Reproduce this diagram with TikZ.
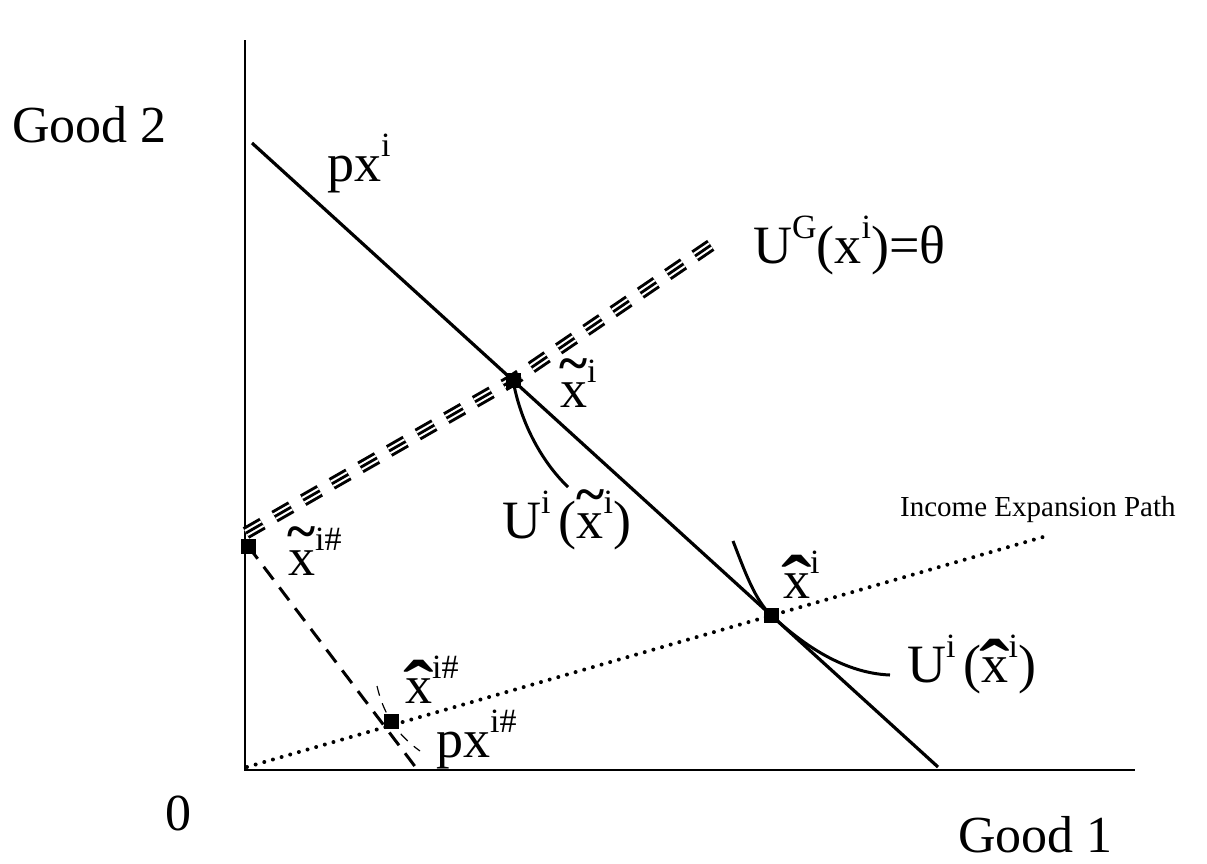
\documentclass[tikz,border=0pt]{standalone}
\usepackage{graphicx}
\usepackage{fontspec}
\setmainfont{Liberation Serif}
\newcommand{\lblfont}{\fontsize{54}{60}\selectfont}
\newcommand{\axfont}{\fontsize{52}{60}\selectfont}
\newcommand{\iepfont}{\fontsize{29}{34}\selectfont}
\newcommand{\sups}[1]{\raisebox{0.45em}{\fontsize{34}{34}\selectfont #1}}
\newcommand{\accx}[3]{\rlap{\makebox[0.5em]{\raisebox{#3}{#1}}}x\sups{#2}}
\newcommand{\tildex}[1]{\accx{\textbf{\textasciitilde}}{#1}{0.47em}}
\newcommand{\hatx}[1]{\accx{\scalebox{1.7}[1.4]{\textbf{\char"02C6}}}{#1}{-0.2em}}
\tikzset{
  axis/.style={line width=1.8pt},
  budget/.style={line width=3.2pt},
  icurve/.style={line width=3pt},
  pt/.style={fill, rectangle, minimum size=15pt, inner sep=0pt},
  lab/.style={anchor=base west, inner sep=0pt, font=\lblfont},
  axlab/.style={anchor=base west, inner sep=0pt, font=\axfont},
  ieppath/.style={line width=4pt, line cap=round, dash pattern=on 0pt off 9pt},
  budgetnew/.style={line width=3pt, dash pattern=on 16pt off 10pt},
  icnew/.style={line width=1.2pt, dash pattern=on 10pt off 8pt},
  ugline/.style={line width=13pt, dash pattern=on 19pt off 14pt,
    postaction={draw=white, line width=7pt, dash pattern=on 19pt off 14pt},
    postaction={draw, line width=2.8pt, dash pattern=on 19pt off 14pt}}
}
\begin{document}
\begin{tikzpicture}[x=1pt, y=-1pt]
\useasboundingbox (0,0) rectangle (1207,863);
% axes
\coordinate (o) at (245,770);
\coordinate (ytop) at (245,40);
\coordinate (xend) at (1135,770);
\draw[axis] (ytop) -- (o) -- (xend);
% points
\coordinate (xt) at (513,380);
\coordinate (xh) at (771,615);
\coordinate (xtn) at (248,546);
\coordinate (xhn) at (391,721);
% lines
\coordinate (bud1) at (252,143);
\coordinate (bud2) at (938,767);
\draw[budget] (bud1) -- (bud2);
\coordinate (iep1) at (247,767);
\coordinate (iep2) at (1050,535);
\draw[ieppath] (iep1) -- (iep2);
\coordinate (ugstart) at (246,533);
\coordinate (ugend) at (720,239);
\draw[ugline] (ugstart) -- (xt) -- (ugend);
\coordinate (bnend) at (420,773);
\draw[budgetnew] (xtn) -- (bnend);
% indifference curves
\coordinate (ute) at (568,487);
\draw[icurve] (xt) .. controls (520,420) and (540,460) .. (ute);
\coordinate (uhs) at (733,541);
\coordinate (uhe) at (890,675);
\draw[icurve] (uhs) .. controls (745,572) and (755,600) .. (xh)
  .. controls (798,640) and (840,673) .. (uhe);
\coordinate (uns) at (377,686);
\coordinate (une) at (420,751);
\draw[icnew] (uns) .. controls (383,712) and (395,733) .. (une);
% squares
\node[pt] (sqxt) at (xt) {};
\node[pt] (sqxh) at (xh) {};
\node[pt] (sqxtn) at (xtn) {};
\node[pt] (sqxhn) at (xhn) {};
% labels
\node[axlab] (good2) at (12,142) {Good 2};
\node[axlab] (zero) at (165,830) {0};
\node[axlab] (good1) at (958,852) {Good 1};
\node[lab] (pxi) at (327,181) {px\sups{i}};
\node[lab] (ug) at (753,263) {U\sups{G}(x\sups{i})=θ};
\node[lab] (lxt) at (560,407) {\tildex{i}};
\node[lab] (lut) at (502,538) {U\sups{i}\hspace{0.15em}(\tildex{i})};
\node[lab] (lxtn) at (288,575) {\tildex{i\#}};
\node[lab] (lxh) at (783,598) {\hatx{i}};
\node[lab] (luh) at (907,682) {U\sups{i}\hspace{0.15em}(\hatx{i})};
\node[lab] (lxhn) at (405,703) {\hatx{i\#}};
\node[lab] (pxn) at (436,757) {px\sups{i\#}};
\node[anchor=base west, inner sep=0pt, font=\iepfont] (iep) at (900,516) {Income Expansion Path};
\end{tikzpicture}
\end{document}
